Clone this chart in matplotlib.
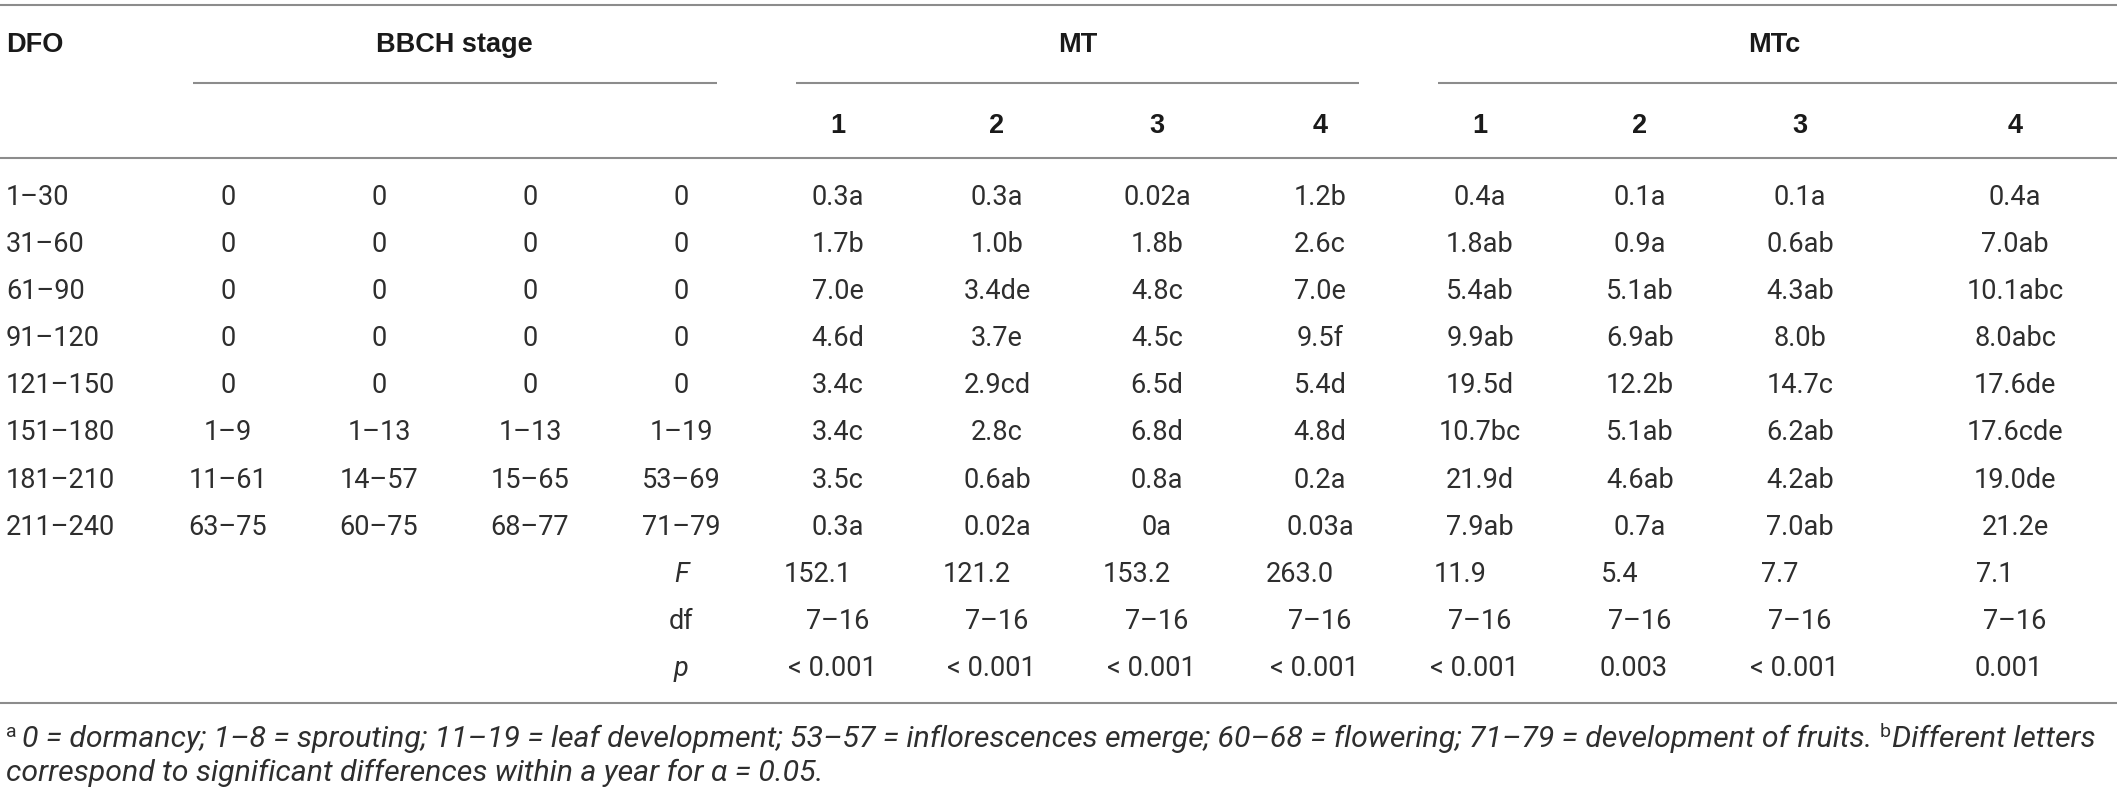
import matplotlib
matplotlib.use('Agg')
import matplotlib.pyplot as plt

#<------------------------- Datos de la tabla ------------------------------>
dfo = ['1–30', '31–60', '61–90', '91–120', '121–150', '151–180', '181–210', '211–240']

bbch_stage = [
    ['0', '0', '0', '0'],
    ['0', '0', '0', '0'],
    ['0', '0', '0', '0'],
    ['0', '0', '0', '0'],
    ['0', '0', '0', '0'],
    ['1–9', '1–13', '1–13', '1–19'],
    ['11–61', '14–57', '15–65', '53–69'],
    ['63–75', '60–75', '68–77', '71–79'],
]

mt = [
    ['0.3a', '0.3a', '0.02a', '1.2b'],
    ['1.7b', '1.0b', '1.8b', '2.6c'],
    ['7.0e', '3.4de', '4.8c', '7.0e'],
    ['4.6d', '3.7e', '4.5c', '9.5f'],
    ['3.4c', '2.9cd', '6.5d', '5.4d'],
    ['3.4c', '2.8c', '6.8d', '4.8d'],
    ['3.5c', '0.6ab', '0.8a', '0.2a'],
    ['0.3a', '0.02a', '0a', '0.03a'],
]

mtc = [
    ['0.4a', '0.1a', '0.1a', '0.4a'],
    ['1.8ab', '0.9a', '0.6ab', '7.0ab'],
    ['5.4ab', '5.1ab', '4.3ab', '10.1abc'],
    ['9.9ab', '6.9ab', '8.0b', '8.0abc'],
    ['19.5d', '12.2b', '14.7c', '17.6de'],
    ['10.7bc', '5.1ab', '6.2ab', '17.6cde'],
    ['21.9d', '4.6ab', '4.2ab', '19.0de'],
    ['7.9ab', '0.7a', '7.0ab', '21.2e'],
]

stat_labels = ['F', 'df', 'p']
f_values = ['152.1', '121.2', '153.2', '263.0', '11.9', '5.4', '7.7', '7.1']
df_values = ['7–16'] * 8
p_values = ['< 0.001', '< 0.001', '< 0.001', '< 0.001', '< 0.001', '0.003', '< 0.001', '0.001']

group_titles = ['BBCH stage', 'MT', 'MTc']
sub_titles = ['1', '2', '3', '4']

foot_a = '0 = dormancy; 1–8 = sprouting; 11–19 = leaf development; 53–57 = inflorescences emerge; 60–68 = flowering; 71–79 = development of fruits. '
foot_b1 = 'Different letters'
foot_b2 = 'correspond to significant differences within a year for α = 0.05.'

#<------------------------- Layout (pixeles) ------------------------------>
W, H = 2117, 794
bbch_x = [228, 379, 530, 681]
mt_x = [838, 997, 1157, 1320]
mtc_x = [1480, 1640, 1800, 2015]
row0, row_step, base_off = 196, 47.1, 9

body = dict(family='Roboto', fontweight='normal', fontsize=19.5, color='#2e2e2e')
head = dict(family='Liberation Sans', fontweight='bold', fontsize=19.5, color='#1a1a1a')
rule = dict(color='#8c8c8c', lw=1.5)

fig = plt.figure(figsize=(W / 100, H / 100), dpi=100)
ax = fig.add_axes([0, 0, 1, 1])
ax.set_xlim(0, W)
ax.set_ylim(H, 0)
ax.axis('off')

#<--------------------------- Lineas --------------------------------------->
ax.hlines([5, 158, 703], 0, W, **rule)
ax.hlines(83, 193, 717, **rule)
ax.hlines(83, 796, 1359, **rule)
ax.hlines(83, 1438, W, **rule)

#<--------------------------- Encabezados ---------------------------------->
ax.text(6, 52, 'DFO', ha='left', va='baseline', **head)
for titulo, xc in zip(group_titles, [454, 1078, 1774]):
    ax.text(xc, 52, titulo, ha='center', va='baseline', **head)
for s, x1, x2 in zip(sub_titles, mt_x, mtc_x):
    ax.text(x1, 133, s, ha='center', va='baseline', **head)
    ax.text(x2, 133, s, ha='center', va='baseline', **head)

#<--------------------------- Cuerpo --------------------------------------->
for i, d in enumerate(dfo):
    yb = row0 + i * row_step + base_off
    ax.text(6, yb, d, ha='left', va='baseline', **body)
    for v, xc in zip(bbch_stage[i], bbch_x):
        ax.text(xc, yb, v, ha='center', va='baseline', **body)
    for v, xc in zip(mt[i], mt_x):
        ax.text(xc, yb, v, ha='center', va='baseline', **body)
    for v, xc in zip(mtc[i], mtc_x):
        ax.text(xc, yb, v, ha='center', va='baseline', **body)

stat_rows = [f_values, df_values, p_values]
shifts = [-20, 0, -6]
for j, (lab, vals, sh) in enumerate(zip(stat_labels, stat_rows, shifts)):
    yb = row0 + (len(dfo) + j) * row_step + base_off
    estilo = 'normal' if lab == 'df' else 'italic'
    ax.text(bbch_x[3], yb, lab, ha='center', va='baseline', style=estilo, **body)
    for v, xc in zip(vals, mt_x + mtc_x):
        ax.text(xc + sh, yb, v, ha='center', va='baseline', **body)

#<--------------------------- Notas al pie --------------------------------->
foot = dict(family='Roboto', fontweight='normal', style='italic', color='#2e2e2e')
sup = dict(family='Roboto', fontweight='normal', color='#2e2e2e', fontsize=14)
fig.canvas.draw()
r = fig.canvas.get_renderer()

def ancho(t):
    bb = t.get_window_extent(renderer=r)
    return bb.width

ax.text(6, 737, 'a', ha='left', va='baseline', **sup)
prueba = ax.text(22, 747, foot_a + foot_b1, fontsize=18, **foot)
escala = (2096 - 22 - 14) / ancho(prueba)
prueba.remove()
fs = 18 * escala

t1 = ax.text(22, 747, foot_a, ha='left', va='baseline', fontsize=fs, **foot)
x_b = 22 + ancho(t1)
tb = ax.text(x_b, 737, 'b', ha='left', va='baseline', **sup)
x_c = x_b + ancho(tb) + 1
ax.text(x_c, 747, foot_b1, ha='left', va='baseline', fontsize=fs, **foot)
ax.text(6, 781, foot_b2, ha='left', va='baseline', fontsize=fs, **foot)

fig.savefig('out.png', dpi=100, facecolor='white')
